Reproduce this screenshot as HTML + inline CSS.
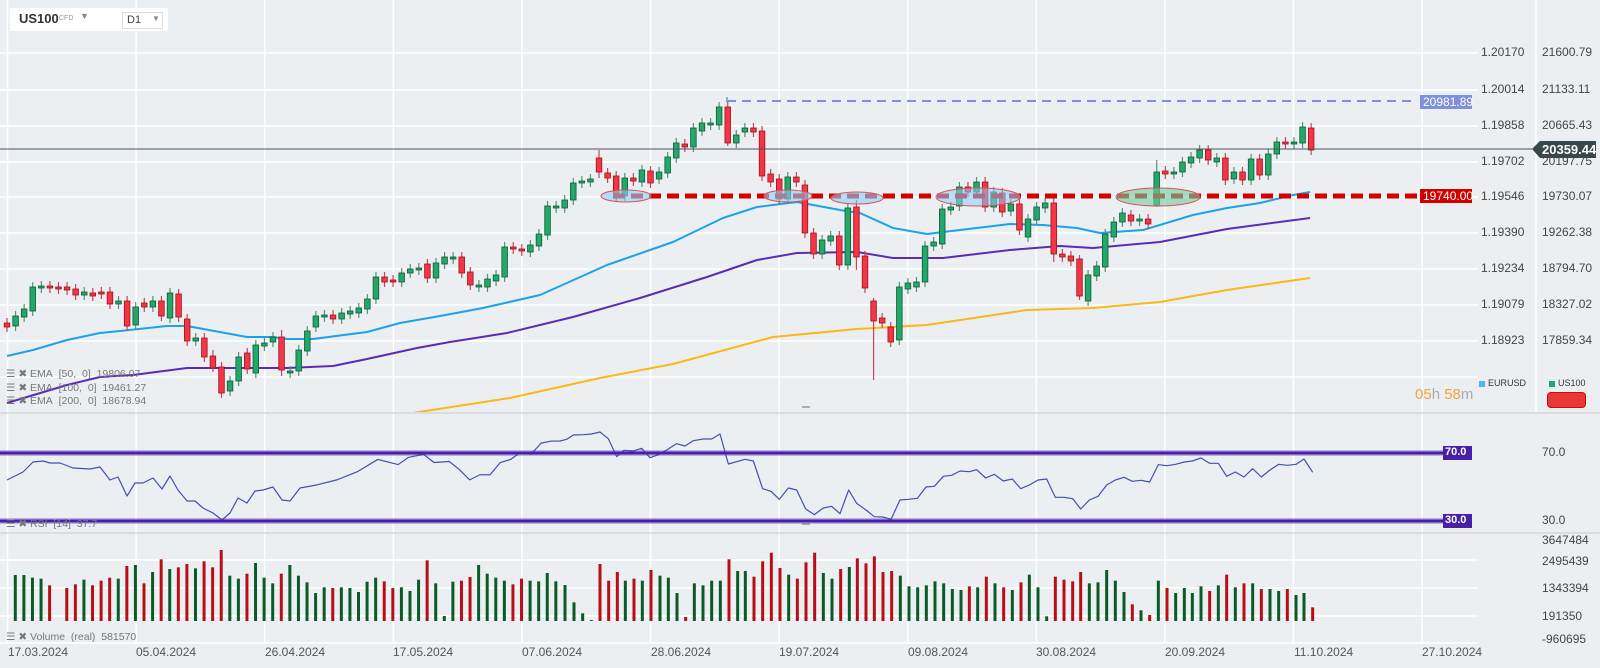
<!DOCTYPE html>
<html><head><meta charset="utf-8">
<style>
html,body{margin:0;padding:0;background:#eceff2;}
body{width:1600px;height:668px;position:relative;overflow:hidden;font-family:"Liberation Sans",sans-serif;}
.t{position:absolute;white-space:nowrap;}
.ax{font-size:12px;color:#444;}
.dt{font-size:12px;color:#555;top:645px;}
.lg{font-size:10.5px;color:#777;}
svg{position:absolute;left:0;top:0;}
</style></head>
<body>
<svg id="s" width="1600" height="668" viewBox="0 0 1600 668"></svg>

<div class="t" style="left:10px;top:8px;width:158px;height:23px;background:#fff;border-radius:2px;"></div>
<div class="t" style="left:19px;top:11px;font-size:13px;font-weight:bold;color:#333;">US100</div>
<div class="t" style="left:59px;top:15px;font-size:7px;color:#999;">CFD</div>
<div class="t" style="left:80px;top:11px;font-size:9px;color:#888;">▼</div>
<div class="t" style="left:122px;top:12px;width:39px;height:15px;border:1px solid #ddd;background:#fff;"></div>
<div class="t" style="left:127px;top:14px;font-size:11px;color:#444;">D1</div>
<div class="t" style="left:152px;top:14px;font-size:8px;color:#888;">▼</div>

<div class="t lg" style="left:6px;top:368px;">☰ ✖ EMA&nbsp; [50,&nbsp; 0]&nbsp; 19806.07</div>
<div class="t lg" style="left:6px;top:382px;">☰ ✖ EMA&nbsp; [100,&nbsp; 0]&nbsp; 19461.27</div>
<div class="t lg" style="left:6px;top:395px;">☰ ✖ EMA&nbsp; [200,&nbsp; 0]&nbsp; 18678.94</div>
<div class="t lg" style="left:6px;top:518px;">☰ ✖ RSI&nbsp; [14]&nbsp; 37.7</div>
<div class="t lg" style="left:6px;top:631px;">☰ ✖ Volume&nbsp; (real)&nbsp; 581570</div>

<div class="t" style="left:1415px;top:386px;font-size:15px;color:#f7a23a;">05<span style="color:#aaa">h</span> 58<span style="color:#aaa">m</span></div>
<div class="t" style="left:1479px;top:381px;width:6px;height:6px;background:#4fb8ee;"></div>
<div class="t" style="left:1488px;top:378px;font-size:9px;color:#333;">EURUSD</div>
<div class="t" style="left:1549px;top:381px;width:6px;height:6px;background:#1fa86a;"></div>
<div class="t" style="left:1558px;top:378px;font-size:9px;color:#333;">US100</div>
<div class="t" style="left:1547px;top:392px;width:37px;height:14px;background:#e53935;border:1px solid #d00;border-radius:4px;"></div>

<div id="labels"></div>

<script>
var S=document.getElementById('s');var NS='http://www.w3.org/2000/svg';
function el(t,a){var e=document.createElementNS(NS,t);for(var k in a)e.setAttribute(k,a[k]);S.appendChild(e);return e;}
var gx=[];for(var k=0;k<12;k++)gx.push(7.5+128.6*k);
gx.forEach(function(x){el('line',{x1:x,y1:0,x2:x,y2:643,stroke:'#fff','stroke-width':1.5});});
el('line',{x1:1536,y1:0,x2:1536,y2:413,stroke:'#fff','stroke-width':1.5});
[53,90,126,162,197,233,269,305,341,377].forEach(function(y){el('line',{x1:0,y1:y,x2:1478,y2:y,stroke:'#fff','stroke-width':1.5});});
[560,588,616,643].forEach(function(y){el('line',{x1:0,y1:y,x2:1478,y2:y,stroke:'#fff','stroke-width':1.5});});
el('line',{x1:0,y1:413,x2:1600,y2:413,stroke:'#d3d6da','stroke-width':1.5});
el('line',{x1:0,y1:533,x2:1600,y2:533,stroke:'#d3d6da','stroke-width':1.5});
el('rect',{x:802,y:406,width:8,height:2,fill:'#aaa'});
el('rect',{x:802,y:523,width:8,height:2,fill:'#aaa'});

var g=el('g',{'clip-path':'url(#cp)'});
var d=el('defs',{});var cp=document.createElementNS(NS,'clipPath');cp.setAttribute('id','cp');
var cr=document.createElementNS(NS,'rect');cr.setAttribute('x',0);cr.setAttribute('y',0);cr.setAttribute('width',1478);cr.setAttribute('height',412);cp.appendChild(cr);d.appendChild(cp);
function pl(pts,c,w,parent){var e=document.createElementNS(NS,'polyline');e.setAttribute('points',pts.map(function(p){return p[0]+','+p[1]}).join(' '));e.setAttribute('fill','none');e.setAttribute('stroke',c);e.setAttribute('stroke-width',w);e.setAttribute('stroke-linejoin','round');(parent||S).appendChild(e);return e;}
pl([[7,356],[33,350],[67,340],[100,333],[120,331],[167,326],[187,326],[247,337],[273,337],[287,339],[313,339],[367,332],[400,323],[440,316],[483,308],[540,295],[607,265],[673,242],[723,218],[757,207],[797,202],[840,210],[860,213],[893,228],[927,234],[960,230],[1010,224],[1043,225],[1077,228],[1100,233],[1143,230],[1193,215],[1227,208],[1260,203],[1293,195],[1310,192]],'#1aa3e8',2,g);
pl([[7,403],[67,385],[100,377],[133,375],[187,368],[287,368],[333,366],[367,359],[417,348],[450,342],[507,333],[573,317],[640,298],[707,277],[757,260],[797,253],[857,252],[893,258],[943,258],[1010,250],[1060,246],[1093,248],[1160,242],[1227,229],[1310,218]],'#5b2bb5',2,g);
pl([[400,415],[419,412],[510,398],[600,378],[673,364],[773,337],[857,329],[927,325],[1027,310],[1093,308],[1160,302],[1227,290],[1310,278]],'#fbb817',2,g);
var C=[[323,327,'r'],[316,326,'g'],[309,317,'g'],[287,311,'g'],[286,288,'g'],[286,288,'r'],[287,289,'r'],[287,290,'r'],[289,295,'r'],[292,295,'g'],[293,296,'r'],[292,294,'r'],[292,304,'r'],[301,304,'g'],[301,326,'r'],[307,325,'g'],[303,307,'r'],[301,307,'g'],[301,316,'r'],[293,318,'g'],[294,317,'r'],[319,341,'r'],[338,341,'g'],[338,357,'r'],[356,368,'r'],[367,393,'r'],[381,391,'g'],[357,381,'g'],[353,369,'r'],[345,373,'g'],[343,346,'g'],[337,342,'g'],[337,370,'r'],[371,373,'g'],[350,371,'g'],[331,351,'g'],[316,327,'g'],[315,317,'g'],[315,319,'r'],[313,319,'g'],[311,314,'g'],[308,313,'g'],[299,309,'g'],[277,299,'g'],[277,282,'r'],[280,282,'r'],[273,282,'g'],[269,273,'g'],[268,269,'g'],[264,278,'r'],[263,278,'g'],[257,264,'g'],[257,259,'g'],[257,273,'r'],[272,285,'r'],[285,287,'g'],[279,287,'g'],[275,281,'g'],[247,277,'g'],[247,249,'r'],[249,251,'r'],[245,252,'g'],[234,246,'g'],[206,235,'g'],[206,208,'g'],[200,208,'g'],[183,200,'g'],[181,183,'g'],[179,182,'g'],[158,172,'r'],[173,178,'r'],[176,196,'r'],[178,196,'g'],[178,181,'r'],[170,182,'g'],[171,183,'r'],[172,179,'g'],[157,173,'g'],[143,158,'g'],[144,147,'r'],[128,147,'g'],[123,131,'g'],[123,125,'g'],[107,125,'g'],[107,143,'r'],[135,143,'g'],[128,132,'g'],[128,132,'r'],[131,176,'r'],[174,182,'r'],[179,199,'r'],[177,199,'g'],[177,182,'r'],[185,233,'r'],[233,254,'r'],[240,254,'g'],[236,241,'g'],[236,265,'r'],[208,265,'g'],[207,257,'r'],[256,288,'r'],[301,321,'r'],[318,323,'r'],[327,342,'r'],[287,340,'g'],[283,289,'g'],[282,287,'g'],[246,282,'g'],[242,246,'g'],[209,244,'g'],[207,210,'g'],[187,206,'g'],[187,192,'r'],[182,192,'g'],[182,207,'r'],[192,207,'g'],[193,212,'r'],[204,211,'g'],[204,230,'r'],[219,237,'g'],[207,220,'g'],[203,208,'g'],[203,254,'r'],[254,257,'r'],[256,261,'r'],[259,296,'r'],[275,301,'g'],[266,276,'g'],[234,267,'g'],[222,237,'g'],[213,222,'g'],[215,221,'r'],[219,221,'g'],[219,224,'r'],[172,205,'g'],[171,174,'r'],[172,174,'g'],[162,172,'g'],[157,163,'g'],[150,158,'g'],[150,160,'r'],[158,162,'g'],[158,180,'r'],[172,179,'g'],[172,180,'r'],[159,180,'g'],[159,175,'r'],[154,175,'g'],[142,154,'g'],[142,144,'r'],[142,144,'g'],[127,143,'g'],[128,150,'r']];
var wk={84:[101,146],101:[298,380],99:[200,270],69:[150,178],125:[255,300],134:[160,207],24:[350,372],122:[198,262],32:[330,376]};
C.forEach(function(c,i){var x=7+8.58*i;var top=c[0],bot=Math.max(c[1],c[0]+2);var w=wk[i]||[top-5,bot+5];
var col=c[2]=='g'?'#22a86b':'#f23645',br=c[2]=='g'?'#0e5a35':'#a0101c';
var l=document.createElementNS(NS,'line');l.setAttribute('x1',x);l.setAttribute('x2',x);l.setAttribute('y1',w[0]);l.setAttribute('y2',w[1]);l.setAttribute('stroke',c[2]=='g'?'#5d8f77':'#c0485a');l.setAttribute('stroke-width',1.2);g.appendChild(l);
var r=document.createElementNS(NS,'rect');r.setAttribute('x',x-2.8);r.setAttribute('y',top);r.setAttribute('width',5.6);r.setAttribute('height',bot-top);r.setAttribute('fill',col);r.setAttribute('stroke',br);r.setAttribute('stroke-width',0.8);g.appendChild(r);});
el('line',{x1:0,y1:149,x2:1532,y2:149,stroke:'#4a5560','stroke-width':1});
el('line',{x1:727,y1:101,x2:1413,y2:101,stroke:'#8090d8','stroke-width':2,'stroke-dasharray':'9 6'});
el('line',{x1:727,y1:97,x2:727,y2:103,stroke:'#8090d8','stroke-width':1.5});
el('line',{x1:613,y1:196,x2:1418,y2:196,stroke:'#d40000','stroke-width':5,'stroke-dasharray':'12 6'});
[[626,196,25,6,'rgba(135,206,250,0.6)'],[788,196,24,6,'rgba(135,206,250,0.6)'],[857,198,26,6,'rgba(135,206,250,0.6)'],[978,197,42,9,'rgba(135,206,250,0.55)'],[1158,197,42,9,'rgba(110,205,160,0.6)']].forEach(function(e){el('ellipse',{cx:e[0],cy:e[1],rx:e[2],ry:e[3],fill:e[4],stroke:'#e05050','stroke-width':1});});
var rsi=[[7,480],[23,472],[33,462],[43,461],[50,463],[60,463],[73,468],[90,469],[100,467],[110,480],[118,477],[127,496],[135,483],[143,483],[153,478],[162,489],[170,476],[178,490],[187,501],[195,501],[203,508],[213,513],[222,520],[230,513],[238,498],[247,503],[255,491],[263,490],[273,487],[282,500],[290,501],[300,488]];
[[310,475],[330,470],[350,462],[370,450],[390,455],[400,448],[415,445],[425,453],[440,452],[450,460],[460,470],[470,465],[480,465],[490,453],[500,450],[510,443],[520,445],[530,434],[540,432]].forEach(function(p){rsi.push([p[0]*1.021,p[1]*1.021]);});
[[0,93],[20,88],[40,75],[70,74],[95,72],[120,66],[145,86],[170,140],[192,121],[220,123],[245,115],[270,143],[295,134],[320,120],[350,101],[375,108],[400,92],[430,87],[455,87],[480,72],[505,162],[530,155],[555,148],[580,153],[608,236],[633,244],[658,268],[685,234],[710,240],[737,297],[763,314],[790,294],[815,289],[840,311],[866,240],[890,280],[918,300],[943,320],[968,321],[993,328],[1020,270],[1045,268],[1072,265],[1098,231],[1123,229],[1150,199],[1175,196],[1200,183]].forEach(function(p){rsi.push([560+p[0]/3,410+p[1]/3]);});
[[88,185],[110,179],[137,204],[163,193],[190,213],[217,207],[242,236],[268,225],[294,210],[320,207],[346,262],[372,262],[398,266],[422,297],[448,270],[474,259],[500,225],[526,210],[552,202],[577,214],[603,211],[629,216],[655,164],[681,167],[707,163],[733,156],[757,153],[783,144],[809,160],[835,160],[860,199],[886,186],[912,201],[938,176],[964,201],[990,180],[1016,163],[1042,166],[1068,163],[1092,147],[1118,187]].forEach(function(p){rsi.push([940+p[0]/3,410+p[1]/3]);});
pl(rsi,'#4350b0',1.2);
[453,521].forEach(function(y){el('line',{x1:0,y1:y,x2:1443,y2:y,stroke:'rgba(90,60,190,0.35)','stroke-width':6});el('line',{x1:0,y1:y,x2:1443,y2:y,stroke:'#4a1fa8','stroke-width':3});
el('rect',{x:1443,y:y-7,width:29,height:14,fill:'#4a1fa8'});});
var V=[];
[[165,'g'],[165,'g'],[173,'g'],[176,'g'],[196,'r'],[0,'g'],[204,'r'],[193,'r'],[179,'g'],[196,'r'],[182,'r'],[173,'r'],[176,'g'],[138,'r'],[135,'g'],[190,'r'],[156,'g'],[118,'r'],[147,'g'],[142,'r'],[132,'r'],[145,'g'],[124,'r'],[142,'r'],[90,'r'],[167,'g'],[176,'g'],[161,'r'],[129,'g'],[173,'g'],[190,'g'],[161,'r'],[135,'g'],[167,'g'],[187,'g'],[219,'g'],[202,'g'],[204,'r'],[202,'g'],[204,'g'],[216,'g'],[185,'g'],[173,'g'],[184,'r'],[204,'r'],[202,'g'],[213,'g'],[179,'g'],[121,'r'],[190,'g'],[288,'g'],[185,'g'],[182,'r'],[171,'r'],[135,'g'],[161,'g'],[173,'g'],[182,'g'],[193,'r'],[176,'r'],[182,'g'],[184,'g'],[159,'g'],[184,'g']].forEach(function(v,k){V.push([15.3+8.58*k,v[0]?520+v[0]/3:0,v[1]]);});
[[15,525,'g'],[42,577,'g'],[68,610,'g'],[94,630,'g'],[120,462,'r'],[146,512,'r'],[172,486,'r'],[196,512,'g'],[222,506,'r'],[247,512,'g'],[273,480,'r'],[300,497,'g'],[325,503,'g'],[351,549,'g'],[377,621,'r'],[403,520,'g'],[429,526,'g'],[455,512,'g'],[481,512,'g'],[507,448,'r'],[533,483,'g'],[556,483,'g'],[582,500,'r'],[608,454,'r'],[634,428,'r'],[660,474,'r'],[686,494,'g'],[712,506,'r'],[738,457,'r'],[764,428,'r'],[790,489,'g'],[816,506,'g'],[842,477,'r'],[868,471,'g'],[892,445,'r'],[918,460,'r'],[943,439,'r'],[969,486,'r'],[995,483,'r'],[1021,497,'g'],[1047,529,'g'],[1073,532,'g'],[1099,526,'g'],[1125,514,'g'],[1151,520,'g'],[1177,537,'g']].forEach(function(v){V.push([560+v[0]/3,410+v[1]/3,v[2]]);});
[[63,540,'g'],[88,529,'r'],[113,532,'g'],[139,500,'r'],[165,520,'g'],[191,532,'r'],[217,540,'g'],[243,517,'r'],[268,494,'g'],[294,532,'g'],[320,619,'g'],[346,500,'r'],[372,509,'r'],[398,514,'r'],[422,486,'r'],[448,520,'g'],[474,517,'g'],[500,480,'g'],[526,512,'g'],[552,546,'g'],[577,583,'r'],[603,601,'g'],[629,615,'r'],[655,512,'g'],[681,534,'r'],[707,549,'g'],[733,534,'g'],[757,549,'g'],[783,529,'g'],[809,543,'r'],[835,526,'g'],[860,494,'r'],[886,532,'g'],[912,520,'r'],[938,520,'g'],[964,537,'r'],[990,537,'g'],[1016,543,'g'],[1042,537,'r'],[1068,555,'g'],[1092,549,'g'],[1118,592,'r']].forEach(function(v){V.push([940+v[0]/3,410+v[1]/3,v[2]]);});
V.forEach(function(v){if(!v[1])return;el('rect',{x:v[0]-1.5,y:v[1],width:3,height:Math.max(621-v[1],1),fill:v[2]=='g'?'#0b5a28':'#b80f17'});});

var L=document.getElementById('labels');
function T(x,y,txt,cls,st){var d=document.createElement('div');d.className='t '+cls;d.style.left=x+'px';d.style.top=y+'px';if(st)d.style.cssText+=st;d.textContent=txt;L.appendChild(d);}
var pv=[[53,'1.20170','21600.79'],[90,'1.20014','21133.11'],[126,'1.19858','20665.43'],[162,'1.19702','20197.75'],[197,'1.19546','19730.07'],[233,'1.19390','19262.38'],[269,'1.19234','18794.70'],[305,'1.19079','18327.02'],[341,'1.18923','17859.34']];
pv.forEach(function(p){T(1481,p[0]-8,p[1],'ax');T(1542,p[0]-8,p[2],'ax');});
T(1542,445,'70.0','ax');T(1542,513,'30.0','ax');
[[541,'3647484'],[562,'2495439'],[589,'1343394'],[617,'191350'],[640,'-960695']].forEach(function(p){T(1542,p[0]-8,p[1],'ax');});
['17.03.2024','05.04.2024','26.04.2024','17.05.2024','07.06.2024','28.06.2024','19.07.2024','09.08.2024','30.08.2024','20.09.2024','11.10.2024','27.10.2024'].forEach(function(s,k){T(Math.round(gx[k]),645,s,'dt');});
T(1420,95,'20981.89','','background:#8090d8;color:#fff;font-size:12px;padding:0 3px;height:14px;line-height:14px;width:46px;');
T(1420,189,'19740.00','','background:#d40000;color:#fff;font-size:12px;padding:0 3px;height:14px;line-height:14px;width:46px;');
T(1445,446,'70.0','','color:#fff;font-size:11px;font-weight:bold;');
T(1445,514,'30.0','','color:#fff;font-size:11px;font-weight:bold;');
el('polygon',{points:'1532,149 1540,141 1596,141 1596,158 1540,158',fill:'#37474f'});
T(1542,142,'20359.44','','color:#fff;font-size:13px;font-weight:bold;');
</script>
</body></html>
